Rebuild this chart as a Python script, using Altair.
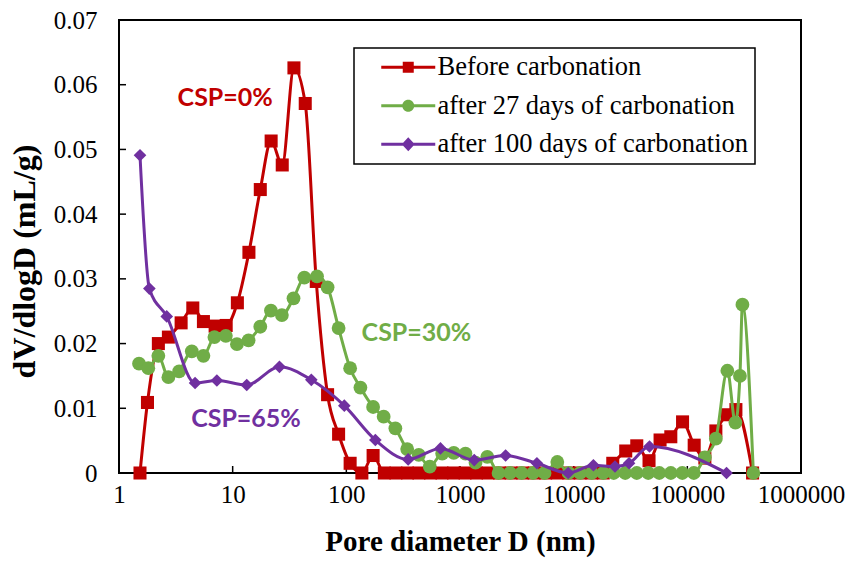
import altair as alt
import pandas as pd

# ---- series definitions -------------------------------------------------
series_names = ["Before carbonation", "after 27 days of carbonation", "after 100 days of carbonation"]
series_colors = ["#C00000", "#70AD47", "#7030A0"]
series_shapes = ["square", "circle", "diamond"]
series_sizes = [170, 190, 160]

# Pore size distribution, before carbonation (CSP=0%)
before_d = [1.53, 1.78, 2.22, 2.72, 3.52, 4.46, 5.53, 7.01, 8.77, 11.0, 13.9, 17.5, 21.8, 27.3,
            34.6, 43.5, 54.4, 68.4, 85.5, 108, 137, 172,
            216, 273, 345, 435, 550, 694, 877, 1107, 1397, 1766, 2229, 2815, 3556, 4489,
            5667, 7155, 9036, 11405, 14410, 18200,
            22080, 28710, 35900, 46030, 57560, 71550, 90780, 114900, 142600, 178200,
            224300, 267500, 375000]
before_v = [0, 0.0109, 0.0200, 0.0210, 0.0232, 0.0255, 0.0234, 0.0227, 0.0228, 0.0263, 0.0341,
            0.0438, 0.0513, 0.0476, 0.0626, 0.0571, 0.0296, 0.0121, 0.0060, 0.0015, 0, 0.0027,
            0, 0, 0, 0, 0, 0, 0, 0, 0, 0, 0, 0, 0, 0, 0, 0, 0, 0, 0, 0,
            0.0015, 0.0034, 0.0042, 0.0019, 0.0051, 0.0056, 0.0079, 0.0043, 0.0023, 0.0065,
            0.0090, 0.0098, 0]

# after 27 days of carbonation (CSP=30%)
d27_d = [1.50, 1.81, 2.22, 2.72, 3.38, 4.37, 5.53, 6.91, 8.71, 10.9, 13.8, 17.5, 21.7, 27.1,
         34.3, 42.7, 55.2, 68.4, 85.5, 108, 133, 172, 213, 270, 343, 434, 542, 697, 881,
         1117, 1370, 1738,
         2183, 2759, 3483, 4396, 5548, 7180,
         9036, 11400, 14410, 18200, 22500, 28420, 35900, 45300, 56640, 71550, 90300, 114000,
         142600, 178200, 225000, 264800, 290300, 305300, 381000]
d27_v = [0.0169, 0.0162, 0.0181, 0.0148, 0.0157, 0.0188, 0.0181, 0.0210, 0.0212, 0.0199,
         0.0205, 0.0226, 0.0251, 0.0244, 0.0270, 0.0302, 0.0304, 0.0287, 0.0224, 0.0162,
         0.0132, 0.0102, 0.0087, 0.0069, 0.0037, 0.0028, 0.0010, 0.0030, 0.0031, 0.0030,
         0.0016, 0.0025,
         0, 0, 0, 0, 0, 0.0017,
         0, 0, 0, 0, 0, 0, 0, 0, 0, 0, 0, 0,
         0.0024, 0.0053, 0.0158, 0.0078, 0.0150, 0.0260, 0]

# after 100 days of carbonation (CSP=65%)
d100_d = [1.53, 1.85, 2.63, 4.67, 7.26, 13.3, 25.8, 49.2, 96.0, 180, 350, 673, 1334, 2518,
          4750, 8950, 14920, 23100, 30700, 46450, 221300]
d100_v = [0.0491, 0.0285, 0.0242, 0.0139, 0.0143, 0.0136, 0.0164, 0.0144, 0.0104, 0.0051,
          0.0021, 0.0038, 0.0020, 0.0027, 0.0015, 0, 0.0012, 0.0010, 0.0015, 0.0041, 0]

# CSP annotations
note_text = ["CSP=0%", "CSP=30%", "CSP=65%"]
note_d = [8.6, 414, 13.1]
note_v = [0.0580, 0.0216, 0.0083]

x_ticks = [1, 10, 100, 1000, 10000, 100000, 1000000]
y_ticks = [0, 0.01, 0.02, 0.03, 0.04, 0.05, 0.06, 0.07]

# ---- data tables --------------------------------------------------------
frames = []
for name, ds, vs in zip(series_names, [before_d, d27_d, d100_d], [before_v, d27_v, d100_v]):
    frames.append(pd.DataFrame({"series": name, "D": ds, "V": vs, "order": range(len(ds))}))
data = pd.concat(frames, ignore_index=True)
notes = pd.DataFrame({"text": note_text, "D": note_d, "V": note_v, "hex": series_colors})

W, H = 682, 453
SERIF = "Liberation Serif"

x_scale = alt.Scale(type="log", domain=[1, 1000000], nice=False)
y_scale = alt.Scale(domain=[0, 0.07], nice=False, zero=True)
color_scale = alt.Scale(domain=series_names, range=series_colors)

x_axis = alt.Axis(values=x_ticks, format="d", title="Pore diameter D (nm)", grid=False,
                  domain=False, ticks=False, labelPadding=9, titlePadding=20,
                  labelFontSize=25, titleFontSize=29,
                  labelFlush=False, labelOverlap=False)
y_axis = alt.Axis(values=y_ticks, format=".2~f", title="dV/dlogD (mL/g)", grid=False,
                  domain=False, ticks=False, labelPadding=22, titlePadding=12,
                  labelFontSize=25, titleFontSize=32, titleY=241)

X = alt.X("D:Q", scale=x_scale, axis=x_axis)
Y = alt.Y("V:Q", scale=y_scale, axis=y_axis)

# one line + marker layer per series, drawn in legend order
layers = []
for name, colr, shape, size in zip(series_names, series_colors, series_shapes, series_sizes):
    sub = alt.Chart(data).transform_filter(alt.datum.series == name)
    layers.append(sub.mark_line(interpolate="monotone", strokeWidth=3, color=colr).encode(
        x=X, y=Y, order="order:Q"))
    layers.append(sub.mark_point(shape=shape, filled=True, size=size, opacity=1, color=colr).encode(
        x=X, y=Y))

# legend symbols: a line segment with the series marker on it (unit = 5 px)
bar = "M-5.4,-0.3L5.4,-0.3L5.4,0.3L-5.4,0.3Z"
legend_paths = [
    bar + " M-1.1,-1.1L1.1,-1.1L1.1,1.1L-1.1,1.1Z",
    bar + " M-1.2,0A1.2,1.2 0 1,1 1.2,0A1.2,1.2 0 1,1 -1.2,0Z",
    bar + " M0,-1.4L1.3,0L0,1.4L-1.3,0Z",
]
legend_props = dict(
    title=None, orient="none", legendX=235, legendY=28,
    padding=6, symbolOpacity=1, symbolStrokeWidth=0,
    symbolOffset=35, labelOffset=16, rowPadding=11.5,
    labelFont=SERIF, labelFontSize=26.5, labelColor="black", labelLimit=500,
    strokeColor="black",
    labelExpr="datum.label + '\u2003'",
)
legend_layer = alt.Chart(data).mark_point(filled=True, opacity=0).encode(
    x=X, y=Y,
    color=alt.Color("series:N", scale=color_scale, legend=alt.Legend(**legend_props)),
    shape=alt.Shape("series:N", scale=alt.Scale(domain=series_names, range=legend_paths),
                    legend=alt.Legend(**legend_props)),
)

notes_layer = alt.Chart(notes).mark_text(font="Lato", fontWeight="bold", fontSize=25).encode(
    x=X, y=Y, text="text:N", color=alt.Color("hex:N", scale=None))

x_tick_layer = alt.Chart(pd.DataFrame({"D": x_ticks})).mark_rule(color="black", strokeWidth=1.5).encode(
    x=X, y=alt.value(H), y2=alt.value(H - 7))
y_tick_layer = alt.Chart(pd.DataFrame({"V": y_ticks})).mark_rule(color="black", strokeWidth=1.5).encode(
    y=Y, x=alt.value(0), x2=alt.value(7))

chart = alt.layer(x_tick_layer, y_tick_layer, *layers, legend_layer, notes_layer).properties(
    width=W, height=H,
    padding={"left": 119, "top": 20, "right": 49, "bottom": 88},
    autosize=alt.AutoSizeParams(type="none"),
    background="white",
).configure_view(
    stroke="black", strokeWidth=2
).configure_axis(
    labelFont=SERIF, labelColor="black",
    titleFont=SERIF, titleFontWeight="bold", titleColor="black",
).configure_legend(
    strokeWidth=1.5
)

chart.save("out.html", embed_options={"renderer": "svg", "actions": False})
